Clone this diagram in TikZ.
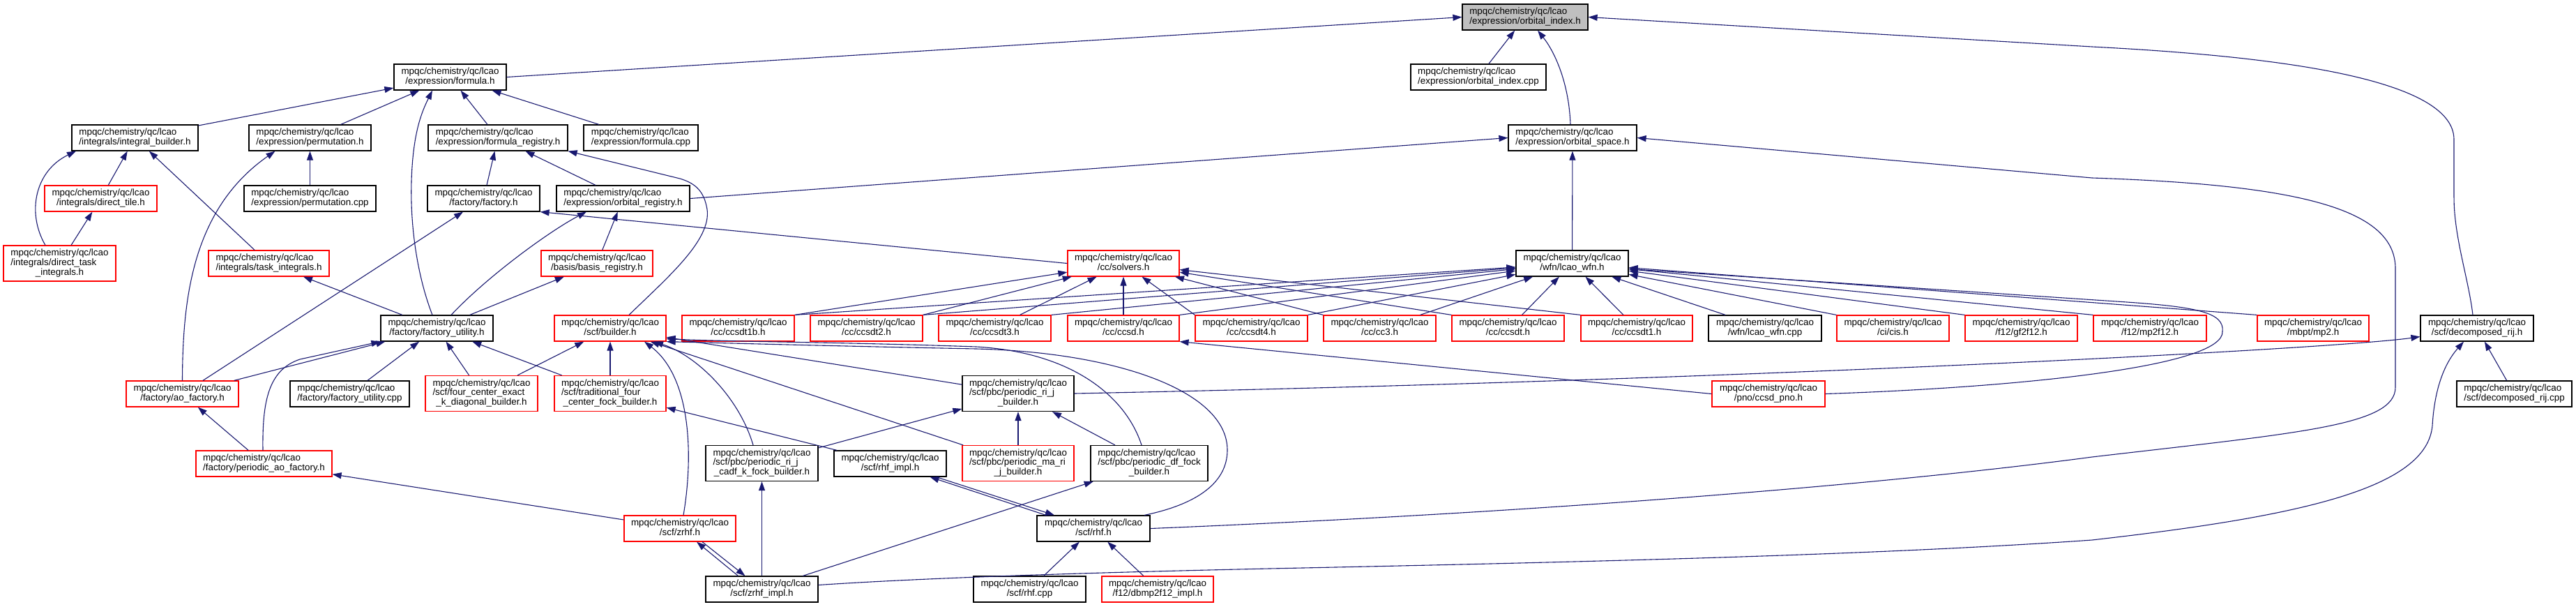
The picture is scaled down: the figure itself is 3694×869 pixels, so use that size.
\documentclass[tikz,border=0pt]{standalone}
\usepackage{fontspec}
\setmainfont{Liberation Sans}
\usetikzlibrary{arrows.meta}
\definecolor{mblue}{HTML}{191970}
\definecolor{rootgray}{HTML}{BFBFBF}
\newcommand{\fnb}[1]{\begin{tabular}{@{}l@{}}mpqc/chemistry/qc/lcao\\\multicolumn{1}{@{}c@{}}{#1}\end{tabular}}
\newcommand{\fnc}[2]{\begin{tabular}{@{}l@{}}mpqc/chemistry/qc/lcao\\#1\\\multicolumn{1}{@{}c@{}}{#2}\end{tabular}}
\tikzset{
 nd/.style={draw=black, fill=white, line width=0.6pt, rectangle, inner xsep=2pt, inner ysep=0pt, minimum height=18.5pt, font=\fontsize{6.7}{6.67}\selectfont},
 nr/.style={nd, draw=red},
 tall/.style={minimum height=25.5pt},
 dep/.style={draw=mblue, line width=0.55pt, -{Triangle[length=6.5pt,width=4.5pt]}},
}
\begin{document}
\begin{tikzpicture}[x=0.5pt,y=-0.5pt]
\useasboundingbox (0,0) rectangle (3694,869);
% rank 0-1
\node[nd, fill=rootgray, minimum width=90pt] (oidx) at (2187,24.5) {\fnb{/expression/orbital\_index.h}};
\node[nd, minimum width=80.5pt] (formula) at (645.5,110.5) {\fnb{/expression/formula.h}};
\node[nd, minimum width=97pt] (oidxcpp) at (2120,110.5) {\fnb{/expression/orbital\_index.cpp}};
% rank 2
\node[nd, minimum width=90.5pt] (intb) at (193.5,197.5) {\fnb{/integrals/integral\_builder.h}};
\node[nd, minimum width=87.5pt] (perm) at (444.5,197.5) {\fnb{/expression/permutation.h}};
\node[nd, minimum width=100pt] (freg) at (714,197.5) {\fnb{/expression/formula\_registry.h}};
\node[nd, minimum width=82pt] (fcpp) at (919,197.5) {\fnb{/expression/formula.cpp}};
\node[nd, minimum width=92pt] (ospace) at (2255,197.5) {\fnb{/expression/orbital\_space.h}};
% rank 3
\node[nr, minimum width=80.5pt] (dtile) at (144.5,284.5) {\fnb{/integrals/direct\_tile.h}};
\node[nd, minimum width=94.5pt] (permcpp) at (444.5,284.5) {\fnb{/expression/permutation.cpp}};
\node[nd, minimum width=80.5pt] (factory) at (693.5,284.5) {\fnb{/factory/factory.h}};
\node[nd, minimum width=95.5pt] (oreg) at (893.5,284.5) {\fnb{/expression/orbital\_registry.h}};
% rank 4
\node[nr, tall, minimum width=80.5pt] (dtask) at (85.5,377.5) {\fnc{/integrals/direct\_task}{\_integrals.h}};
\node[nr, minimum width=86.5pt] (tint) at (385.5,377.5) {\fnb{/integrals/task\_integrals.h}};
\node[nr, minimum width=80pt] (breg) at (856,377.5) {\fnb{/basis/basis\_registry.h}};
\node[nr, minimum width=80pt] (solvers) at (1611,377.5) {\fnb{/cc/solvers.h}};
\node[nd, minimum width=80.5pt] (lwfn) at (2254.5,377.5) {\fnb{/wfn/lcao\_wfn.h}};
% rank 5
\node[nd, minimum width=80.5pt] (futil) at (626.5,470.5) {\fnb{/factory/factory\_utility.h}};
\node[nr, minimum width=80pt] (builder) at (875,470.5) {\fnb{/scf/builder.h}};
\node[nr, minimum width=80.5pt] (ccsdt1b) at (1058.5,470.5) {\fnb{/cc/ccsdt1b.h}};
\node[nr, minimum width=80.5pt] (ccsdt2) at (1242.5,470.5) {\fnb{/cc/ccsdt2.h}};
\node[nr, minimum width=80.5pt] (ccsdt3) at (1426.5,470.5) {\fnb{/cc/ccsdt3.h}};
\node[nr, minimum width=80pt] (ccsd) at (1611,470.5) {\fnb{/cc/ccsd.h}};
\node[nr, minimum width=80.5pt] (ccsdt4) at (1794.5,470.5) {\fnb{/cc/ccsdt4.h}};
\node[nr, minimum width=80.5pt] (cc3) at (1978.5,470.5) {\fnb{/cc/cc3.h}};
\node[nr, minimum width=80.5pt] (ccsdt) at (2162.5,470.5) {\fnb{/cc/ccsdt.h}};
\node[nr, minimum width=80pt] (ccsdt1) at (2347,470.5) {\fnb{/cc/ccsdt1.h}};
\node[nd, minimum width=81pt] (lwfncpp) at (2531,470.5) {\fnb{/wfn/lcao\_wfn.cpp}};
\node[nr, minimum width=80.5pt] (cis) at (2714.5,470.5) {\fnb{/ci/cis.h}};
\node[nr, minimum width=80.5pt] (gf2f12) at (2898.5,470.5) {\fnb{/f12/gf2f12.h}};
\node[nr, minimum width=81pt] (mp2f12) at (3083,470.5) {\fnb{/f12/mp2f12.h}};
\node[nr, minimum width=80pt] (mp2) at (3317,470.5) {\fnb{/mbpt/mp2.h}};
\node[nd, minimum width=81pt] (decomp) at (3552,470.5) {\fnb{/scf/decomposed\_rij.h}};
% rank 6
\node[nr, minimum width=80.5pt] (aofac) at (261.5,564.5) {\fnb{/factory/ao\_factory.h}};
\node[nd, minimum width=85.5pt] (futilcpp) at (501.5,564.5) {\fnb{/factory/factory\_utility.cpp}};
\node[nr, tall, minimum width=80.5pt] (fourc) at (690.5,564) {\fnc{/scf/four\_center\_exact}{\_k\_diagonal\_builder.h}};
\node[nr, tall, minimum width=80pt] (tradf) at (875,564) {\fnc{/scf/traditional\_four}{\_center\_fock\_builder.h}};
\node[nd, tall, minimum width=80pt] (rijb) at (1460,564) {\fnc{/scf/pbc/periodic\_ri\_j}{\_builder.h}};
\node[nr, minimum width=81pt] (pno) at (2536,564.5) {\fnb{/pno/ccsd\_pno.h}};
\node[nd, minimum width=82.5pt] (decompcpp) at (3605.5,564.5) {\fnb{/scf/decomposed\_rij.cpp}};
% rank 7
\node[nr, minimum width=97.5pt] (paofac) at (378.5,664.5) {\fnb{/factory/periodic\_ao\_factory.h}};
\node[nd, tall, minimum width=80.5pt] (cadf) at (1092.5,664) {\fnc{/scf/pbc/periodic\_ri\_j}{\_cadf\_k\_fock\_builder.h}};
\node[nd, minimum width=80.5pt] (rhfimpl) at (1276.5,664.5) {\fnb{/scf/rhf\_impl.h}};
\node[nr, tall, minimum width=80pt] (mari) at (1460,664) {\fnc{/scf/pbc/periodic\_ma\_ri}{\_j\_builder.h}};
\node[nd, tall, minimum width=84pt] (dff) at (1648,664) {\fnc{/scf/pbc/periodic\_df\_fock}{\_builder.h}};
% rank 8
\node[nr, minimum width=80pt] (zrhf) at (975,757.5) {\fnb{/scf/zrhf.h}};
\node[nd, minimum width=81pt] (rhf) at (1568,757.5) {\fnb{/scf/rhf.h}};
% rank 9
\node[nd, minimum width=80.5pt] (zrhfimpl) at (1092.5,844.5) {\fnb{/scf/zrhf\_impl.h}};
\node[nd, minimum width=80.5pt] (rhfcpp) at (1476.5,844.5) {\fnb{/scf/rhf.cpp}};
\node[nr, minimum width=80pt] (dbmp2) at (1660,844.5) {\fnb{/f12/dbmp2f12\_impl.h}};

% edges
\draw[dep] (formula.east) -- (oidx.west);
\draw[dep] (oidxcpp) -- (oidx);
\draw[dep] ([xshift=-1.5pt]ospace.north) .. controls (2250,120) and (2230,75) .. ([xshift=9pt]oidx.south);
\draw[dep] ([xshift=-3pt]decomp.north) .. controls (3540,400) and (3519,340) .. (3519,283) -- (3519,200) .. controls (3519,110) and (3250,80) .. (3000,67) -- (oidx.east);
\draw[dep] (intb) -- (formula);
\draw[dep] (perm) -- (formula);
\draw[dep] ([xshift=-3.25pt]futil.north) .. controls (600,400) and (588,330) .. (590,260) .. controls (592,190) and (605,160) .. ([xshift=-12.75pt]formula.south);
\draw[dep] (freg) -- (formula);
\draw[dep] (fcpp) -- (formula);
\draw[dep] (dtile) -- (intb);
\draw[dep] ([xshift=-10.25pt]dtask.north) .. controls (38,305) and (50,245) .. ([xshift=-42.25pt]intb.south);
\draw[dep] (dtask) -- (dtile);
\draw[dep] (tint) -- (intb);
\draw[dep] (permcpp) -- (perm);
\draw[dep] (aofac.north) .. controls (262,430) and (275,300) .. ([xshift=-25pt]perm.south);
\draw[dep] (factory) -- (freg);
\draw[dep] (oreg) -- (freg);
\draw[dep] ([xshift=13.5pt]builder.north) .. controls (960,395) and (1025,340) .. (1013,295) .. controls (1008,272) and (995,262) .. (975,256) -- (freg.south east);
\draw[dep] (oreg.east) -- (ospace.west);
\draw[dep] (lwfn) -- (ospace);
\draw[dep] (rhf.east) .. controls (2200,735) and (2700,695) .. (3000,655) .. controls (3300,620) and (3435,610) .. (3435,555) -- (3435,385) .. controls (3435,300) and (3300,265) .. (3000,255) -- (ospace.east);
\draw[dep] (aofac) -- (factory);
\draw[dep] (solvers.west) -- (factory.south east);
\draw[dep] ([xshift=10.25pt]futil.north) .. controls (700,395) and (790,330) .. ([xshift=-26.25pt]oreg.south);
\draw[dep] (breg) -- (oreg);
\draw[dep] (futil) -- (breg);
\draw[dep] (futil) -- (tint);
% cc family -> solvers
\foreach \n in {ccsdt1b,ccsdt2} {\draw[dep] (\n.north east) -- (solvers);}
\draw[dep] ([xshift=18pt]ccsdt3.north) -- (solvers);
\draw[dep] (ccsd) -- (solvers);
\foreach \n in {ccsdt4,cc3,ccsdt,ccsdt1} {\draw[dep] (\n.north west) -- (solvers);}
% cc family and others -> lcao_wfn
\foreach \n in {ccsdt1b,ccsdt2,ccsdt3,ccsd,ccsdt4} {\draw[dep] (\n.north east) -- (lwfn);}
\draw[dep] ([xshift=29pt]cc3.north) -- (lwfn);
\draw[dep] ([xshift=10pt]ccsdt.north) -- (lwfn);
\draw[dep] ([xshift=-9.5pt]ccsdt1.north) -- (lwfn);
\draw[dep] (lwfncpp) -- (lwfn);
\foreach \n in {cis,gf2f12,mp2f12,mp2} {\draw[dep] (\n.north west) -- (lwfn);}
\draw[dep] (pno.east) .. controls (2900,555) and (3190,525) .. (3187,475) .. controls (3190,448) and (3150,440) .. (3050,433) -- ([yshift=-4pt]lwfn.east);
\draw[dep] (pno.west) -- (ccsd.south east);
\draw[dep] (aofac) -- (futil);
\draw[dep] ([xshift=-0.75pt]paofac.north) .. controls (376,575) and (385,530) .. (430,515) -- (futil.south west);
\draw[dep] (futilcpp) -- (futil);
\draw[dep] (fourc) -- (futil);
\draw[dep] (tradf) -- (futil);
\draw[dep] (fourc) -- (builder);
\draw[dep] (tradf) -- (builder);
\draw[dep] ([xshift=2.5pt]zrhf.north) .. controls (995,650) and (990,540) .. ([xshift=24.5pt]builder.south);
\draw[dep] ([xshift=-6.25pt]cadf.north) .. controls (1060,570) and (1000,510) .. ([xshift=31.5pt]builder.south);
\draw[dep] (mari) -- (builder);
\draw[dep] (rijb) -- (builder);
\draw[dep] ([xshift=-5.5pt]dff.north) .. controls (1615,570) and (1540,505) .. (1400,497) .. controls (1200,490) and (1050,490) .. ([yshift=2pt]builder.south east);
\draw[dep] ([xshift=36.5pt]rhf.north) .. controls (1720,722) and (1760,690) .. (1760,645) .. controls (1760,560) and (1600,505) .. (1400,500) .. controls (1200,496) and (1050,492) .. (builder.south east);
\draw[dep] (rijb.east) .. controls (2500,545) and (3350,500) .. ([yshift=-6pt]decomp.west);
\draw[dep] ([yshift=3pt]zrhfimpl.east) .. controls (1300,830) and (1500,822) .. (1820,815) .. controls (2300,805) and (2700,795) .. (3000,774) .. controls (3300,740) and (3480,700) .. (3488,610) .. controls (3492,540) and (3515,510) .. ([xshift=-9.5pt]decomp.south);
\draw[dep] (decompcpp) -- (decomp);
\draw[dep] (paofac) -- (aofac);
\draw[dep] (zrhf) -- (paofac);
\draw[dep] (rhfimpl) -- (tradf);
\draw[dep] (cadf) -- (rijb);
\draw[dep] (mari) -- (rijb);
\draw[dep] (dff) -- (rijb);
\draw[dep] (zrhfimpl) -- (cadf);
\draw[dep] (zrhfimpl) -- (dff);
\draw[dep] ([xshift=-17pt]zrhfimpl.north) -- ([xshift=12pt]zrhf.south);
\draw[dep] ([xshift=16pt]zrhf.south) -- ([xshift=-12pt]zrhfimpl.north);
\draw[dep] ([xshift=-34pt]rhf.north) -- ([xshift=28.5pt]rhfimpl.south);
\draw[dep] ([xshift=33pt]rhfimpl.south) -- ([xshift=-28pt]rhf.north);
\draw[dep] (rhfcpp) -- (rhf);
\draw[dep] (dbmp2) -- (rhf);
\end{tikzpicture}
\end{document}
